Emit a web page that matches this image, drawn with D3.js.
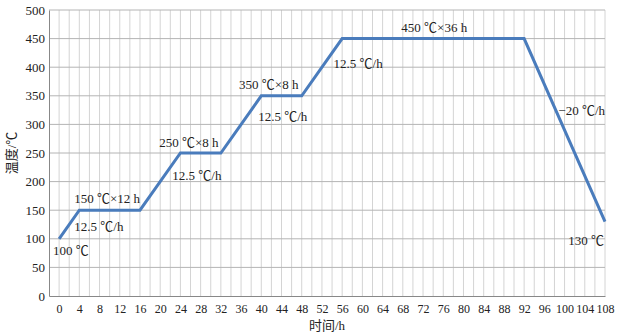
<!DOCTYPE html>
<html>
<head>
<meta charset="utf-8">
<script src="https://cdn.jsdelivr.net/npm/d3@7"></script>
<style>
  body { margin: 0; background: #fff; }
  text { font-family: "Liberation Serif", "Noto Sans CJK SC", serif; fill: #222; }
</style>
</head>
<body>
<svg id="svg-curve"></svg>
<script>
var width = 619,
    height = 335,
    margin = {top: 10, right: 14, bottom: 39, left: 49};

// heating schedule (hours, temperature)
var hours = [0, 4, 16, 24, 32, 40, 48, 56, 92, 108],
    temps = [100, 150, 150, 250, 250, 350, 350, 450, 450, 130];
var xTicks = d3.range(0, 109, 4),
    yTicks = d3.range(0, 501, 50);

// annotation text with the point it sits near
var labels = [
  {t: '100 ℃',      h: -1.2,  v: 80,  a: 'start'},
  {t: '150 ℃×12 h', h: 3,     v: 170, a: 'start'},
  {t: '12.5 ℃/h',   h: 3,     v: 121, a: 'start'},
  {t: '250 ℃×8 h',  h: 19.8,  v: 269, a: 'start'},
  {t: '12.5 ℃/h',   h: 22.4,  v: 211, a: 'start'},
  {t: '350 ℃×8 h',  h: 35.6,  v: 369, a: 'start'},
  {t: '12.5 ℃/h',   h: 39.4,  v: 314, a: 'start'},
  {t: '12.5 ℃/h',   h: 54.3,  v: 407, a: 'start'},
  {t: '450 ℃×36 h', h: 67.7,  v: 469, a: 'start'},
  {t: '−20 ℃/h',    h: 108,   v: 325, a: 'end'},
  {t: '130 ℃',      h: 107.8, v: 97,  a: 'end'}
];

var x = d3.scaleLinear().domain([-2, 108]).range([margin.left, width - margin.right]),
    y = d3.scaleLinear().domain([0, 500]).range([height - margin.bottom, margin.top]);

var svg = d3.select('#svg-curve')
    .attr('width', width)
    .attr('height', height);

// vertical grid every 2 h
svg.append('g')
  .selectAll('line')
  .data(d3.range(0, 109, 2))
  .enter().append('line')
  .attr('x1', d => x(d)).attr('x2', d => x(d))
  .attr('y1', y(0)).attr('y2', y(500))
  .attr('stroke', '#d4d4d4')
  .attr('stroke-width', 1);

// horizontal grid
svg.append('g')
  .selectAll('line')
  .data(yTicks.slice(1))
  .enter().append('line')
  .attr('x1', x(-2)).attr('x2', x(108))
  .attr('y1', d => y(d)).attr('y2', d => y(d))
  .attr('stroke', '#b4b4b4')
  .attr('stroke-width', 1);

// axes
var xAxis = svg.append('g')
  .attr('transform', 'translate(0,' + y(0) + ')')
  .call(d3.axisBottom(x).tickValues(xTicks).tickSize(0).tickPadding(8));
var yAxis = svg.append('g')
  .attr('transform', 'translate(' + x(-2) + ',0)')
  .call(d3.axisLeft(y).tickValues(yTicks).tickSize(0).tickPadding(4));
[xAxis, yAxis].forEach(g => {
  g.select('.domain').attr('stroke', '#888');
  g.selectAll('text').attr('font-family', '"Liberation Serif", serif').attr('fill', '#222');
});
xAxis.selectAll('text').attr('font-size', 12);
yAxis.selectAll('text').attr('font-size', 13);

svg.append('text')
  .attr('transform', 'translate(16,' + ((y(0) + y(500)) / 2) + ') rotate(-90)')
  .attr('text-anchor', 'middle')
  .attr('font-size', 13)
  .text('温度/℃');

svg.append('text')
  .attr('x', (x(-2) + x(108)) / 2)
  .attr('y', 330)
  .attr('text-anchor', 'middle')
  .attr('font-size', 13)
  .text('时间/h');

// curve
var pts = hours.map((h, i) => [h, temps[i]]);
svg.append('path')
  .datum(pts)
  .attr('d', d3.line().x(d => x(d[0])).y(d => y(d[1])))
  .attr('fill', 'none')
  .attr('stroke', '#4a7cbc')
  .attr('stroke-width', 3)
  .attr('stroke-linejoin', 'miter');

svg.append('g')
  .selectAll('text')
  .data(labels)
  .enter().append('text')
  .attr('x', d => x(d.h))
  .attr('y', d => y(d.v))
  .attr('dy', '0.35em')
  .attr('text-anchor', d => d.a)
  .attr('font-size', 13)
  .text(d => d.t);
</script>
</body>
</html>
